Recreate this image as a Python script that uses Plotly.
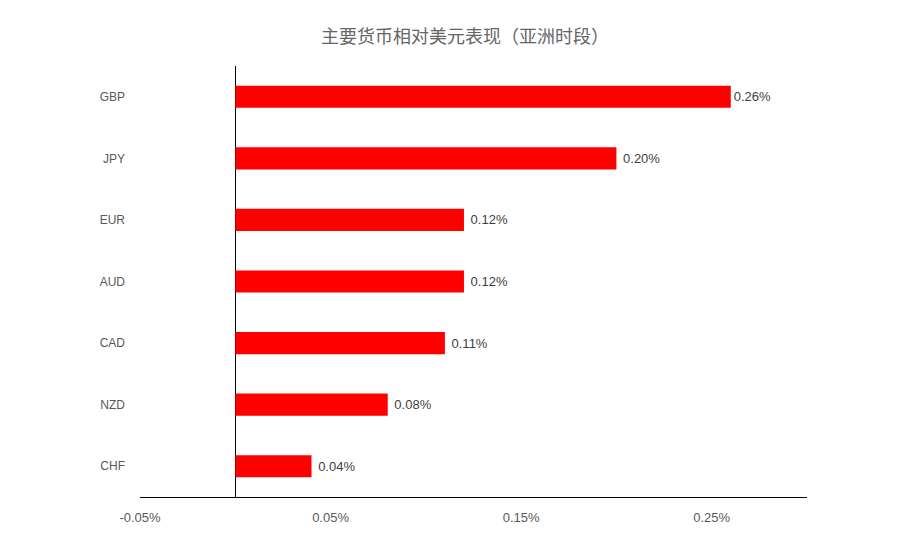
import plotly.graph_objects as go

categories = ["GBP", "JPY", "EUR", "AUD", "CAD", "NZD", "CHF"]
values = [0.26, 0.20, 0.12, 0.12, 0.11, 0.08, 0.04]
tick_vals = [-0.05, 0.05, 0.15, 0.25]
tick_text = ["-0.05%", "0.05%", "0.15%", "0.25%"]
title_text = "主要货币相对美元表现（亚洲时段）"

label_text = [("" if v >= 0.25 else "\u00a0") + f"{v:.2f}%" for v in values]

fig = go.Figure(
    go.Bar(
        x=values,
        y=categories,
        orientation="h",
        marker=dict(color="#FF0000", line=dict(width=0)),
        text=label_text,
        textposition="outside",
        textfont=dict(family="Liberation Sans, Noto Sans", size=13, color="#404040"),
        cliponaxis=False,
        hoverinfo="skip",
    )
)

fig.update_layout(
    width=903,
    height=555,
    margin=dict(l=132, r=104, t=58, b=66),
    paper_bgcolor="white",
    plot_bgcolor="white",
    bargap=0.64,
    showlegend=False,
    title=dict(
        text=title_text,
        x=0.506,
        xanchor="center",
        y=0.948,
        yanchor="middle",
        font=dict(family="Noto Sans CJK SC", size=18, color="#666666"),
    ),
    font=dict(family="Liberation Sans, Noto Sans", size=12, color="#595959"),
)

fig.update_xaxes(
    range=[-0.05, 0.30],
    tickvals=tick_vals,
    ticktext=tick_text,
    showgrid=False,
    zeroline=True,
    zerolinecolor="black",
    zerolinewidth=1,
    showline=True,
    linecolor="black",
    linewidth=1,
    ticks="",
    ticklabelstandoff=8,
    tickfont=dict(size=13, color="#595959"),
)

fig.update_yaxes(
    categoryorder="array",
    categoryarray=categories[::-1],
    showgrid=False,
    zeroline=False,
    showline=False,
    ticks="",
    ticklabelstandoff=14,
    tickfont=dict(size=12, color="#595959"),
)

fig.write_html("out.html")
